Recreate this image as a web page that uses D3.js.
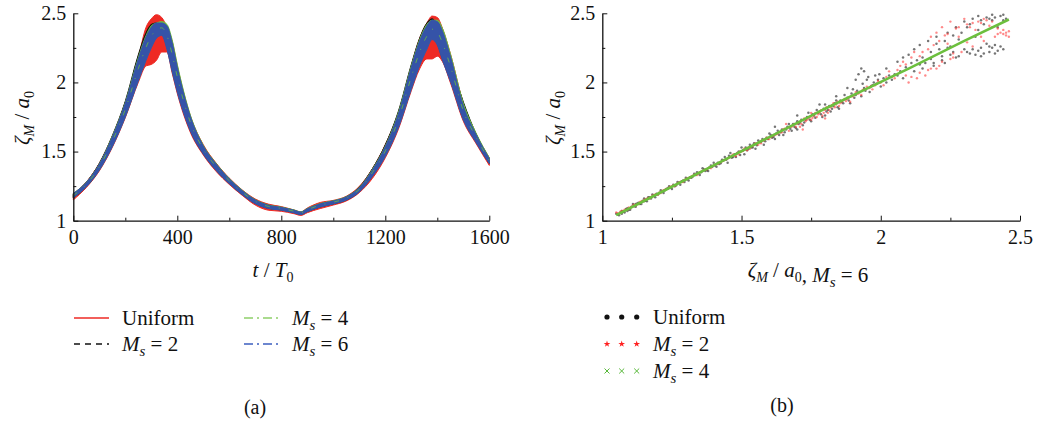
<!DOCTYPE html>
<html>
<head>
<meta charset="utf-8">
<script src="https://cdn.jsdelivr.net/npm/d3@7"></script>
<style>
  body { margin: 0; background: #fff; }
  text { font-family: "Liberation Serif", "DejaVu Serif", serif; fill: #111; }
</style>
</head>
<body>
<svg id="chart" width="1037" height="423"></svg>
<script>
// ---- data, panel (a): envelopes of zeta_M/a0 over t/T0 ----
const times = [0, 50, 100, 150, 200, 250, 280, 300, 320, 340, 360, 380, 400, 450, 500, 550, 600, 650, 700, 750,
    800, 850, 875, 900, 950, 1000, 1050, 1100, 1150, 1200, 1250, 1300, 1330, 1360, 1380, 1400, 1420, 1450, 1500, 1550, 1600];

const uniformLo = [1.15, 1.24, 1.36, 1.53, 1.745, 2.00, 2.12, 2.13, 2.16, 2.22, 2.22, 2.07, 1.92, 1.64, 1.475, 1.355, 1.262, 1.183, 1.113, 1.076,
    1.068, 1.05, 1.038, 1.058, 1.088, 1.113, 1.143, 1.203, 1.305, 1.455, 1.66, 1.94, 2.09, 2.17, 2.17, 2.19, 2.15, 2.00, 1.72, 1.555, 1.40];
const uniformHi = [1.195, 1.28, 1.415, 1.61, 1.855, 2.18, 2.40, 2.46, 2.49, 2.47, 2.40, 2.30, 2.12, 1.76, 1.55, 1.415, 1.308, 1.222, 1.157, 1.12,
    1.102, 1.077, 1.064, 1.092, 1.132, 1.147, 1.177, 1.248, 1.375, 1.55, 1.78, 2.12, 2.31, 2.43, 2.48, 2.47, 2.39, 2.21, 1.85, 1.625, 1.455];

const ms2Lo = [1.165, 1.245, 1.37, 1.545, 1.765, 2.05, 2.20, 2.29, 2.34, 2.35, 2.26, 2.10, 1.95, 1.655, 1.485, 1.365, 1.27, 1.19, 1.125, 1.09,
    1.078, 1.058, 1.046, 1.066, 1.10, 1.122, 1.15, 1.21, 1.325, 1.48, 1.69, 1.97, 2.14, 2.26, 2.32, 2.28, 2.17, 2.03, 1.76, 1.57, 1.415];
const ms2Hi = [1.19, 1.278, 1.415, 1.615, 1.865, 2.20, 2.36, 2.42, 2.43, 2.42, 2.38, 2.26, 2.09, 1.75, 1.54, 1.41, 1.302, 1.217, 1.15, 1.112,
    1.096, 1.075, 1.062, 1.086, 1.122, 1.142, 1.172, 1.242, 1.375, 1.55, 1.79, 2.13, 2.31, 2.43, 2.46, 2.42, 2.34, 2.16, 1.86, 1.625, 1.45];

const ms4Lo = [1.168, 1.248, 1.368, 1.54, 1.755, 2.02, 2.17, 2.26, 2.33, 2.35, 2.26, 2.10, 1.95, 1.66, 1.49, 1.368, 1.272, 1.192, 1.127, 1.092,
    1.079, 1.059, 1.047, 1.068, 1.102, 1.124, 1.152, 1.213, 1.325, 1.47, 1.68, 1.96, 2.12, 2.25, 2.32, 2.28, 2.18, 2.03, 1.74, 1.57, 1.42];
const ms4Hi = [1.197, 1.278, 1.41, 1.61, 1.855, 2.18, 2.34, 2.41, 2.43, 2.44, 2.42, 2.31, 2.13, 1.765, 1.545, 1.412, 1.305, 1.22, 1.152, 1.114,
    1.098, 1.077, 1.064, 1.088, 1.124, 1.144, 1.174, 1.24, 1.37, 1.54, 1.78, 2.12, 2.30, 2.42, 2.45, 2.45, 2.39, 2.21, 1.85, 1.63, 1.455];

const ms6Lo = [1.165, 1.245, 1.365, 1.535, 1.75, 2.01, 2.16, 2.25, 2.32, 2.34, 2.24, 2.08, 1.93, 1.65, 1.482, 1.362, 1.268, 1.188, 1.123, 1.088,
    1.076, 1.056, 1.044, 1.065, 1.099, 1.121, 1.149, 1.208, 1.318, 1.465, 1.67, 1.95, 2.11, 2.24, 2.31, 2.27, 2.16, 2.01, 1.73, 1.562, 1.413];
const ms6Hi = [1.197, 1.277, 1.408, 1.605, 1.85, 2.17, 2.33, 2.40, 2.43, 2.43, 2.41, 2.29, 2.11, 1.755, 1.54, 1.408, 1.302, 1.217, 1.15, 1.112,
    1.096, 1.075, 1.062, 1.086, 1.122, 1.142, 1.172, 1.238, 1.365, 1.535, 1.77, 2.11, 2.29, 2.41, 2.45, 2.44, 2.37, 2.19, 1.83, 1.62, 1.448];

// ---- data, panel (b): zeta_M/a0 of each case against Ms = 6 ----
const uniformPts = [
    [1.05, 1.05], [1.06, 1.04], [1.07, 1.07], [1.07, 1.05], [1.08, 1.06], [1.09, 1.09], [1.09, 1.07], [1.10, 1.08], [1.11, 1.12], [1.12, 1.10],
    [1.12, 1.12], [1.13, 1.13], [1.14, 1.12], [1.15, 1.16], [1.15, 1.14], [1.16, 1.14], [1.17, 1.17], [1.18, 1.19], [1.19, 1.17], [1.20, 1.19],
    [1.21, 1.22], [1.22, 1.20], [1.23, 1.23], [1.24, 1.25], [1.25, 1.23], [1.26, 1.25], [1.27, 1.28], [1.28, 1.26], [1.29, 1.29], [1.30, 1.31],
    [1.31, 1.29], [1.32, 1.31], [1.33, 1.34], [1.34, 1.35], [1.35, 1.33], [1.36, 1.38], [1.37, 1.36], [1.38, 1.36], [1.39, 1.40], [1.40, 1.42],
    [1.41, 1.39], [1.42, 1.41], [1.43, 1.44], [1.44, 1.46], [1.45, 1.42], [1.46, 1.49], [1.47, 1.46], [1.48, 1.46], [1.49, 1.50], [1.50, 1.53],
    [1.51, 1.48], [1.52, 1.51], [1.53, 1.55], [1.54, 1.53], [1.55, 1.52], [1.56, 1.58], [1.57, 1.57], [1.58, 1.55], [1.59, 1.60], [1.60, 1.63],
    [1.61, 1.60], [1.62, 1.59], [1.62, 1.68], [1.63, 1.65], [1.64, 1.64], [1.65, 1.62], [1.66, 1.66], [1.67, 1.70], [1.68, 1.65], [1.69, 1.68],
    [1.70, 1.72], [1.70, 1.76], [1.70, 1.66], [1.71, 1.71], [1.72, 1.69], [1.73, 1.73], [1.74, 1.78], [1.75, 1.72], [1.76, 1.76], [1.77, 1.80],
    [1.78, 1.84], [1.78, 1.79], [1.79, 1.75], [1.80, 1.84], [1.80, 1.76], [1.81, 1.80], [1.82, 1.79], [1.83, 1.83], [1.84, 1.87], [1.84, 1.90],
    [1.85, 1.81], [1.86, 1.86], [1.87, 1.91], [1.88, 1.89], [1.88, 1.96], [1.89, 1.85], [1.90, 1.95], [1.91, 1.91], [1.91, 2.02], [1.92, 2.06],
    [1.93, 1.90], [1.93, 2.10], [1.94, 1.96], [1.94, 2.08], [1.95, 2.02], [1.96, 1.93], [1.97, 1.98], [1.98, 2.05], [1.99, 2.02], [2.00, 1.97],
    [2.02, 2.10], [2.04, 2.02], [2.05, 2.06], [2.06, 2.15], [2.08, 2.03], [2.08, 2.18], [2.09, 2.11], [2.10, 2.20], [2.12, 2.08], [2.12, 2.24],
    [2.14, 2.27], [2.15, 2.10], [2.15, 2.18], [2.16, 2.14], [2.17, 2.30], [2.18, 2.22], [2.18, 2.17], [2.19, 2.14], [2.20, 2.33], [2.20, 2.28],
    [2.22, 2.16], [2.22, 2.19], [2.24, 2.36], [2.24, 2.25], [2.25, 2.20], [2.25, 2.26], [2.26, 2.22], [2.27, 2.40], [2.28, 2.19], [2.28, 2.31],
    [2.30, 2.44], [2.30, 2.24], [2.31, 2.22], [2.32, 2.42], [2.33, 2.46], [2.34, 2.20], [2.34, 2.33], [2.35, 2.48], [2.35, 2.38], [2.36, 2.25],
    [2.36, 2.45], [2.36, 2.19], [2.38, 2.47], [2.38, 2.28], [2.39, 2.22], [2.40, 2.45], [2.40, 2.49], [2.40, 2.25], [2.41, 2.27], [2.42, 2.40],
    [2.42, 2.23], [2.43, 2.48], [2.44, 2.24], [2.44, 2.45], [2.45, 2.46],
    [1.055, 1.045], [1.065, 1.06], [1.075, 1.065], [1.085, 1.085], [1.095, 1.08], [1.105, 1.10], [1.115, 1.105], [1.125, 1.125], [1.135, 1.12],
    [1.145, 1.145], [1.155, 1.145], [1.165, 1.17], [1.175, 1.16], [1.185, 1.18], [1.195, 1.195], [1.205, 1.20], [1.215, 1.21], [1.225, 1.22],
    [1.235, 1.235], [1.245, 1.24], [1.255, 1.26], [1.265, 1.255], [1.275, 1.275], [1.285, 1.285], [1.295, 1.28], [1.305, 1.30], [1.315, 1.315],
    [1.325, 1.32], [1.335, 1.33], [1.345, 1.345], [1.355, 1.35], [1.365, 1.37], [1.375, 1.365], [1.385, 1.385], [1.395, 1.39], [1.405, 1.40],
    [1.415, 1.42], [1.425, 1.415], [1.435, 1.435], [1.445, 1.44], [1.455, 1.47], [1.465, 1.455], [1.475, 1.48], [1.485, 1.49], [1.495, 1.475],
    [1.505, 1.51], [1.515, 1.53], [1.525, 1.52], [1.535, 1.53], [1.545, 1.56], [1.555, 1.545], [1.565, 1.57], [1.575, 1.59], [1.585, 1.575],
    [1.595, 1.59], [1.605, 1.62], [1.615, 1.605], [1.625, 1.63], [1.635, 1.62], [1.645, 1.66], [1.655, 1.64], [1.665, 1.68], [1.675, 1.665],
    [1.685, 1.70], [1.695, 1.67], [1.705, 1.70], [1.715, 1.73], [1.725, 1.71], [1.735, 1.75], [1.745, 1.73], [1.755, 1.77], [1.765, 1.745],
    [1.775, 1.78], [1.785, 1.77], [1.795, 1.81], [1.805, 1.79], [1.815, 1.83], [1.825, 1.81], [1.835, 1.85], [1.845, 1.82], [1.855, 1.87],
    [1.865, 1.85], [1.875, 1.88], [1.885, 1.87], [1.895, 1.92], [1.905, 1.89], [1.915, 1.94], [1.925, 1.93], [1.935, 1.99], [1.945, 1.94],
    [1.955, 2.04], [1.965, 1.97], [1.975, 2.00], [1.985, 1.99], [1.995, 2.06], [2.01, 2.03], [2.03, 2.05], [2.07, 2.08], [2.11, 2.14],
    [2.13, 2.16], [2.21, 2.24], [2.23, 2.30], [2.26, 2.34], [2.29, 2.36], [2.31, 2.40], [2.37, 2.42], [2.39, 2.46], [2.41, 2.47], [2.44, 2.49],
    [2.32, 2.21], [2.33, 2.24], [2.35, 2.23], [2.37, 2.21], [2.39, 2.26], [2.41, 2.21], [2.43, 2.26], [2.27, 2.18], [2.23, 2.14], [2.19, 2.12],
    [2.14, 2.13], [2.06, 2.05], [2.02, 2.00]
];

const ms2Pts = [
    [1.05, 1.06], [1.06, 1.05], [1.07, 1.07], [1.08, 1.08], [1.09, 1.08], [1.10, 1.09], [1.11, 1.11], [1.12, 1.11], [1.13, 1.12], [1.14, 1.14],
    [1.15, 1.15], [1.16, 1.16], [1.17, 1.16], [1.18, 1.18], [1.19, 1.19], [1.20, 1.19], [1.21, 1.20], [1.22, 1.22], [1.23, 1.23], [1.24, 1.24],
    [1.25, 1.25], [1.26, 1.25], [1.27, 1.27], [1.28, 1.28], [1.29, 1.28], [1.30, 1.30], [1.31, 1.31], [1.32, 1.32], [1.33, 1.33], [1.34, 1.33],
    [1.35, 1.35], [1.36, 1.36], [1.37, 1.37], [1.38, 1.38], [1.39, 1.38], [1.40, 1.40], [1.41, 1.41], [1.42, 1.42], [1.43, 1.43], [1.44, 1.44],
    [1.45, 1.45], [1.46, 1.46], [1.47, 1.48], [1.48, 1.47], [1.49, 1.48], [1.50, 1.50], [1.51, 1.52], [1.52, 1.51], [1.53, 1.52], [1.54, 1.54],
    [1.55, 1.56], [1.56, 1.55], [1.57, 1.56], [1.58, 1.58], [1.59, 1.60], [1.60, 1.59], [1.61, 1.61], [1.62, 1.62], [1.63, 1.63], [1.64, 1.64],
    [1.65, 1.66], [1.66, 1.70], [1.67, 1.65], [1.68, 1.68], [1.69, 1.70], [1.70, 1.70], [1.71, 1.68], [1.72, 1.66], [1.73, 1.72], [1.74, 1.74],
    [1.75, 1.73], [1.75, 1.78], [1.76, 1.76], [1.77, 1.75], [1.78, 1.78], [1.79, 1.76], [1.80, 1.74], [1.80, 1.80], [1.81, 1.78], [1.82, 1.82],
    [1.83, 1.85], [1.84, 1.84], [1.85, 1.83], [1.86, 1.86], [1.87, 1.88], [1.88, 1.88], [1.89, 1.86], [1.90, 1.90], [1.91, 1.93], [1.92, 1.92],
    [1.93, 1.91], [1.94, 1.95], [1.95, 1.97], [1.96, 1.96], [1.97, 1.95], [1.98, 1.98], [1.99, 2.01], [2.00, 2.00], [2.01, 1.98], [2.03, 2.08],
    [2.04, 2.04], [2.05, 2.03], [2.07, 2.12], [2.08, 2.15], [2.09, 2.05], [2.10, 2.00], [2.11, 2.18], [2.12, 2.22], [2.13, 2.03], [2.15, 2.22],
    [2.16, 2.05], [2.17, 2.09], [2.18, 2.33], [2.19, 2.27], [2.20, 2.36], [2.20, 2.10], [2.21, 2.12], [2.22, 2.40], [2.23, 2.34], [2.24, 2.28],
    [2.25, 2.17], [2.25, 2.44], [2.26, 2.18], [2.27, 2.39], [2.28, 2.33], [2.29, 2.22], [2.30, 2.46], [2.31, 2.42], [2.32, 2.40], [2.33, 2.26],
    [2.34, 2.38], [2.35, 2.44], [2.36, 2.43], [2.37, 2.30], [2.38, 2.45], [2.39, 2.41], [2.40, 2.40], [2.41, 2.33], [2.42, 2.39], [2.43, 2.36],
    [2.44, 2.35], [2.45, 2.34], [2.46, 2.37], [2.46, 2.33],
    [1.055, 1.055], [1.065, 1.065], [1.075, 1.07], [1.085, 1.08], [1.095, 1.095], [1.105, 1.10], [1.115, 1.115], [1.125, 1.12], [1.135, 1.135],
    [1.145, 1.14], [1.155, 1.155], [1.165, 1.165], [1.175, 1.17], [1.185, 1.185], [1.195, 1.19], [1.205, 1.205], [1.215, 1.215], [1.225, 1.225],
    [1.235, 1.23], [1.245, 1.245], [1.255, 1.255], [1.265, 1.26], [1.275, 1.275], [1.285, 1.28], [1.295, 1.295], [1.305, 1.305], [1.315, 1.31],
    [1.325, 1.325], [1.335, 1.335], [1.345, 1.34], [1.355, 1.355], [1.365, 1.365], [1.375, 1.37], [1.385, 1.385], [1.395, 1.395], [1.405, 1.405],
    [1.415, 1.41], [1.425, 1.425], [1.435, 1.435], [1.445, 1.445], [1.455, 1.455], [1.465, 1.47], [1.475, 1.47], [1.485, 1.49], [1.495, 1.50],
    [1.505, 1.505], [1.515, 1.515], [1.525, 1.53], [1.535, 1.535], [1.545, 1.55], [1.555, 1.555], [1.565, 1.565], [1.575, 1.58], [1.585, 1.59],
    [1.595, 1.59], [1.605, 1.605], [1.615, 1.62], [1.625, 1.625], [1.635, 1.64], [1.645, 1.64], [1.655, 1.665], [1.665, 1.67], [1.675, 1.68],
    [1.685, 1.69], [1.695, 1.68], [1.705, 1.71], [1.715, 1.70], [1.725, 1.74], [1.735, 1.73], [1.745, 1.75], [1.755, 1.745], [1.765, 1.78],
    [1.775, 1.77], [1.785, 1.80], [1.795, 1.78], [1.805, 1.82], [1.815, 1.80], [1.825, 1.835], [1.835, 1.82], [1.845, 1.86], [1.855, 1.85],
    [1.865, 1.87], [1.875, 1.865], [1.885, 1.89], [1.895, 1.90], [1.905, 1.91], [1.915, 1.92], [1.925, 1.93], [1.935, 1.945], [1.945, 1.95],
    [1.955, 1.96], [1.965, 1.975], [1.975, 1.98], [1.985, 1.99], [1.995, 2.00], [2.02, 2.04], [2.06, 2.09], [2.09, 2.13], [2.14, 2.19],
    [2.17, 2.24], [2.21, 2.30], [2.24, 2.35], [2.28, 2.40], [2.33, 2.43], [2.37, 2.46], [2.40, 2.44], [2.44, 2.38], [2.45, 2.36], [2.42, 2.35],
    [2.36, 2.33], [2.31, 2.29], [2.26, 2.21], [2.22, 2.15], [2.18, 2.10], [2.14, 2.07], [2.11, 2.04]
];

// Ms = 4 against Ms = 6 (markers so dense they read as one line)
const ms4Pts = [
    [1.05, 1.04], [1.20, 1.195], [1.40, 1.40], [1.60, 1.605], [1.80, 1.81], [1.95, 1.955], [2.10, 2.10], [2.30, 2.30], [2.46, 2.455]
];

// ---- ticks ----
const tTicks = [0, 400, 800, 1200, 1600];
const tMinor = [200, 600, 1000, 1400];
const zTicks = [1, 1.5, 2, 2.5];
const zMinor = [1.25, 1.75, 2.25];

// ---- colours ----
const red = "#ee2a24", black = "#111111", green = "#6cbf3e", blue = "#3553a8";

const svg = d3.select("#chart");

// scales
const xA = d3.scaleLinear().domain([0, 1600]).range([73.3, 489.3]);
const yA = d3.scaleLinear().domain([1, 2.5]).range([220.7, 13.3]);
const xB = d3.scaleLinear().domain([1, 2.5]).range([602.3, 1020]);
const yB = d3.scaleLinear().domain([1, 2.5]).range([220.7, 13.3]);

// ---- panel (a): bands ----
const bands = [
    { lo: uniformLo, hi: uniformHi, color: red },
    { lo: ms2Lo, hi: ms2Hi, color: black },
    { lo: ms4Lo, hi: ms4Hi, color: green },
    { lo: ms6Lo, hi: ms6Hi, color: blue }
];

const area = d3.area()
    .x(d => xA(d.t))
    .y0(d => yA(d.lo))
    .y1(d => yA(d.hi))
    .curve(d3.curveMonotoneX);

const gA = svg.append("g");
bands.forEach(b => {
    const rows = times.map((t, i) => ({ t, lo: b.lo[i], hi: b.hi[i] }));
    gA.append("path")
        .attr("d", area(rows))
        .attr("fill", b.color)
        .attr("stroke", b.color)
        .attr("stroke-width", 1);
});

// green dash-dot streaks over the blue band
gA.append("path")
    .attr("d", d3.line().x(t => xA(t)).y((t, i) => yA((ms4Lo[i] + ms4Hi[i]) / 2)).curve(d3.curveMonotoneX)(times))
    .attr("fill", "none")
    .attr("stroke", green)
    .attr("stroke-width", 1)
    .attr("stroke-dasharray", "5,9,1,9")
    .attr("opacity", 0.8);

// ---- panel (b): scatter ----
const gB = svg.append("g");
gB.selectAll(".uni")
    .data(uniformPts)
    .join("circle")
    .attr("cx", d => xB(d[0]))
    .attr("cy", d => yB(d[1]))
    .attr("r", 1.25)
    .attr("fill", "#3a3a3a")
    .attr("opacity", 0.7);

gB.selectAll(".ms2")
    .data(ms2Pts)
    .join("circle")
    .attr("cx", d => xB(d[0]))
    .attr("cy", d => yB(d[1]))
    .attr("r", 1.2)
    .attr("fill", "#ff3a3a")
    .attr("opacity", 0.6);

gB.append("path")
    .attr("d", d3.line().x(d => xB(d[0])).y(d => yB(d[1]))(ms4Pts))
    .attr("fill", "none")
    .attr("stroke", green)
    .attr("stroke-width", 2.6);

// ---- axes ----
function drawAxes(x, y, xt, xm, yt, ym) {
    const fmt = d3.format("~g");
    const gx = svg.append("g").attr("transform", `translate(0,${y.range()[0]})`);
    gx.call(d3.axisBottom(x).tickValues(xt).tickFormat(fmt).tickSize(-5).tickSizeOuter(0).tickPadding(9));
    gx.append("g").call(d3.axisBottom(x).tickValues(xm).tickSize(-3).tickSizeOuter(0).tickFormat(""))
        .select(".domain").remove();

    const gy = svg.append("g").attr("transform", `translate(${x.range()[0]},0)`);
    gy.call(d3.axisLeft(y).tickValues(yt).tickFormat(fmt).tickSize(-5).tickSizeOuter(0).tickPadding(7));
    gy.append("g").call(d3.axisLeft(y).tickValues(ym).tickSize(-3).tickSizeOuter(0).tickFormat(""))
        .select(".domain").remove();

    svg.selectAll(".domain").attr("stroke", "#111").attr("stroke-width", 1.3);
    svg.selectAll(".tick line").attr("stroke", "#111").attr("stroke-width", 1);
    svg.selectAll(".tick text")
        .attr("font-family", "Liberation Serif, serif")
        .attr("font-size", 20)
        .attr("fill", "#111");
}
drawAxes(xA, yA, tTicks, tMinor, zTicks, zMinor);
drawAxes(xB, yB, zTicks, zMinor, zTicks, zMinor);

// ---- axis titles ----
function zetaLabel(sel) {
    sel.append("tspan").attr("font-style", "italic").text("ζ");
    sel.append("tspan").attr("font-style", "italic").attr("font-size", 14).attr("dy", 5).text("M");
    sel.append("tspan").attr("dy", -5).text(" / ");
    sel.append("tspan").attr("font-style", "italic").text("a");
    sel.append("tspan").attr("font-size", 14).attr("dy", 5).text("0");
    sel.append("tspan").attr("dy", -5).text("");
}

function msLabel(sel, value) {
    sel.append("tspan").attr("font-style", "italic").text("M");
    sel.append("tspan").attr("font-style", "italic").attr("font-size", 15).attr("dy", 5).text("s");
    sel.append("tspan").attr("dy", -5).text(` = ${value}`);
}

const ttl = svg.append("text").attr("x", 273).attr("y", 277).attr("text-anchor", "middle").attr("font-size", 21);
ttl.append("tspan").attr("font-style", "italic").text("t");
ttl.append("tspan").text(" / ");
ttl.append("tspan").attr("font-style", "italic").text("T");
ttl.append("tspan").attr("font-size", 14).attr("dy", 5).text("0");

[22, 553].forEach(cx => {
    const yt = svg.append("text")
        .attr("transform", `translate(${cx},118) rotate(-90)`)
        .attr("text-anchor", "middle")
        .attr("dy", 7)
        .attr("font-size", 21);
    zetaLabel(yt);
});

const xtB = svg.append("text").attr("x", 808).attr("y", 277).attr("text-anchor", "middle").attr("font-size", 21);
zetaLabel(xtB);
xtB.append("tspan").text(", ");
msLabel(xtB, 6);

// ---- legend (a) ----
const legA = [
    { label: "Uniform", color: red, dash: null, x: 74, y: 318 },
    { label: 2, color: black, dash: "6,5", x: 74, y: 344 },
    { label: 4, color: "#8fcf6a", dash: "9,4,2,4", x: 244, y: 318 },
    { label: 6, color: "#3d5fc0", dash: "9,4,2,4", x: 244, y: 344 }
];
legA.forEach(d => {
    svg.append("line")
        .attr("x1", d.x).attr("x2", d.x + 35)
        .attr("y1", d.y).attr("y2", d.y)
        .attr("stroke", d.color)
        .attr("stroke-width", 1.3)
        .attr("stroke-dasharray", d.dash);
    const t = svg.append("text").attr("x", d.x + 48).attr("y", d.y + 7).attr("font-size", 21);
    if (d.label === "Uniform") t.text("Uniform");
    else msLabel(t, d.label);
});

// ---- legend (b) ----
const legB = [
    { label: "Uniform", shape: "dot", y: 317 },
    { label: 2, shape: "star", y: 344 },
    { label: 4, shape: "times", y: 371 }
];
const timesSymbol = d3.symbolTimes || d3.symbolX || d3.symbolCross;
legB.forEach(d => {
    [607, 621.7, 636.7].forEach(mx => {
        if (d.shape === "dot") {
            svg.append("circle").attr("cx", mx).attr("cy", d.y).attr("r", 2.6).attr("fill", "#111");
        } else if (d.shape === "star") {
            svg.append("path")
                .attr("transform", `translate(${mx},${d.y})`)
                .attr("d", d3.symbol(d3.symbolStar, 14)())
                .attr("fill", "#ff2020");
        } else {
            svg.append("path")
                .attr("transform", `translate(${mx},${d.y})`)
                .attr("d", d3.symbol(timesSymbol, 18)())
                .attr("fill", "none")
                .attr("stroke", "#58b83a")
                .attr("stroke-width", 1);
        }
    });
    const t = svg.append("text").attr("x", 653).attr("y", d.y + 7).attr("font-size", 21);
    if (d.label === "Uniform") t.text("Uniform");
    else msLabel(t, d.label);
});

// ---- panel captions ----
svg.append("text").attr("x", 255).attr("y", 414).attr("text-anchor", "middle").attr("font-size", 20).text("(a)");
svg.append("text").attr("x", 782).attr("y", 412).attr("text-anchor", "middle").attr("font-size", 20).text("(b)");
</script>
</body>
</html>
